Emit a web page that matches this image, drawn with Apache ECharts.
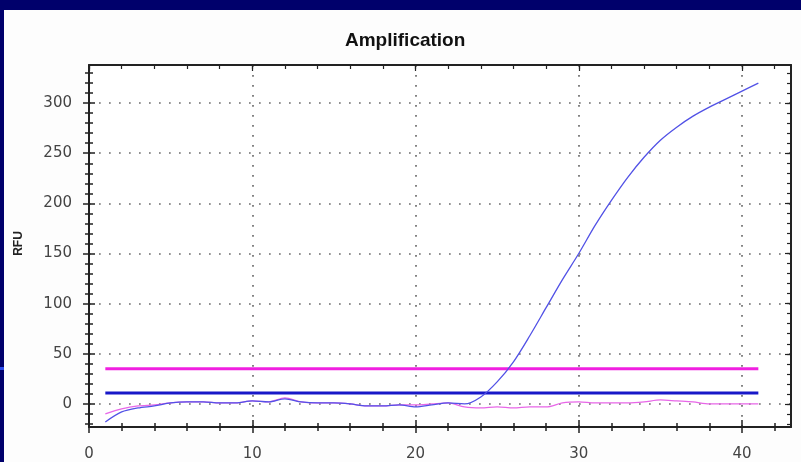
<!DOCTYPE html>
<html>
<head>
<meta charset="utf-8">
<script src="https://cdn.jsdelivr.net/npm/echarts@6/dist/echarts.min.js"></script>
<style>
html,body{margin:0;padding:0;background:#00006b;}
#c{width:801px;height:462px;}
</style>
</head>
<body>
<div id="c"></div>
<script>
// ---- data ----
const chartTitle = 'Amplification';
const yAxisName = 'RFU';
const cycles = [1,2,3,4,5,6,7,8,9,10,11,12,13,14,15,16,17,18,19,20,21,22,23,24,25,26,27,28,29,30,31,32,33,34,35,36,37,38,39,40,41];
const sampleBlue = [-18,-8,-4,-2,1,2,2,1,1,3,2,5,2,1,1,0,-2,-2,-1,-3,-1,1,0,7,22,42,68,96,124,150,178,203,226,246,263,276,287,296,304,312,320];
const samplePink = [-10,-5,-2,-1,1,2,2,1,1,3,2,6,2,1,1,0,-2,-2,-1,-1,0,1,-3,-4,-3,-4,-3,-3,1,2,1,1,1,2,4,3,2,0,0,0,0];
const thresholdPink = 35;
const thresholdBlue = 11;
const thresholdRange = [1, 41];
const xMin = 0, xMax = 43, yMin = -23, yMax = 338;
const xMajorTicks = [0, 10, 20, 30, 40];
const xMinorTicks = [0, 2, 4, 6, 8, 10, 12, 14, 16, 18, 20, 22, 24, 26, 28, 30, 32, 34, 36, 38, 40, 42];
const yMajorTicks = [0, 50, 100, 150, 200, 250, 300];
const yMinorTicks = [-20, -10, 0, 10, 20, 30, 40, 50, 60, 70, 80, 90, 100, 110, 120, 130, 140, 150, 160, 170, 180, 190, 200, 210, 220, 230, 240, 250, 260, 270, 280, 290, 300, 310, 320, 330];

const chart = echarts.init(document.getElementById('c'), null, {renderer: 'canvas'});

const FONT = 'DejaVu Sans';
const axisColor = '#222';

function baseAx(pos, min, max, ticks, opts) {
  return Object.assign({
    type: 'value', position: pos, min: min, max: max,
    axisLine: {show: false, onZero: false},
    axisLabel: {show: false, customValues: ticks},
    splitLine: {show: false},
    axisTick: {show: false, customValues: ticks}
  }, opts);
}
function tick(inside, len, w) {
  return {show: true, inside: inside, length: len, lineStyle: {color: axisColor, width: w}};
}
const xAx = (pos, ticks, opts) => baseAx(pos, xMin, xMax, ticks, opts);
const yAx = (pos, ticks, opts) => baseAx(pos, yMin, yMax, ticks, opts);
const gridDots = {show: true, lineStyle: {color: '#6e6e6e', width: 1.7, type: [1.7, 8.3]}};
const boxLine = {show: true, onZero: false, lineStyle: {color: axisColor, width: 2}};

const option = {
  backgroundColor: '#00006b',
  animation: false,
  graphic: [
    {type: 'rect', z: -10, shape: {x: 4, y: 10, width: 797, height: 452}, style: {fill: '#fdfdfd'}},
    {type: 'rect', z: -9, shape: {x: 0, y: 367, width: 4, height: 3}, style: {fill: '#2a4cf0'}}
  ],
  title: {
    text: chartTitle, left: 345, top: 31, padding: 0,
    textStyle: {fontFamily: 'Liberation Sans', fontWeight: 'bold', fontSize: 19, color: '#111'}
  },
  grid: {left: 89, right: 10, top: 65, bottom: 35, containLabel: false, show: true, backgroundColor: '#ffffff', borderWidth: 0},
  xAxis: [
    xAx('bottom', xMajorTicks, {
      axisLine: boxLine,
      axisLabel: {show: true, customValues: xMajorTicks, margin: 20, fontFamily: FONT, fontSize: 15, color: '#444'},
      axisTick: Object.assign(tick(false, 6, 1.5), {customValues: xMajorTicks}),
      splitLine: gridDots
    }),
    xAx('bottom', xMajorTicks, {axisTick: Object.assign(tick(true, 7, 1.5), {customValues: xMajorTicks})}),
    xAx('bottom', xMinorTicks, {axisTick: Object.assign(tick(false, 4, 1.5), {customValues: xMinorTicks})}),
    xAx('bottom', xMinorTicks, {axisTick: Object.assign(tick(true, 4, 1.5), {customValues: xMinorTicks})}),
    xAx('top', xMinorTicks, {axisLine: boxLine, axisTick: Object.assign(tick(true, 4, 1.2), {customValues: xMinorTicks})}),
    xAx('top', xMajorTicks, {axisTick: Object.assign(tick(true, 6, 1.2), {customValues: xMajorTicks})})
  ],
  yAxis: [
    yAx('left', yMajorTicks, {
      name: yAxisName, nameLocation: 'middle', nameGap: 64, nameRotate: 90,
      nameTextStyle: {fontFamily: 'Liberation Sans', fontWeight: 'bold', fontSize: 12, color: '#222', padding: [0, 0, 0, 5]},
      axisLine: boxLine,
      axisLabel: {show: true, customValues: yMajorTicks, margin: 17, fontFamily: FONT, fontSize: 15, color: '#444'},
      axisTick: Object.assign(tick(false, 6, 1.5), {customValues: yMajorTicks}),
      splitLine: gridDots
    }),
    yAx('left', yMajorTicks, {axisTick: Object.assign(tick(true, 6, 1.5), {customValues: yMajorTicks})}),
    yAx('left', yMinorTicks, {axisTick: Object.assign(tick(false, 4, 1.5), {customValues: yMinorTicks})}),
    yAx('left', yMinorTicks, {axisTick: Object.assign(tick(true, 4, 1.5), {customValues: yMinorTicks})}),
    yAx('right', yMinorTicks, {axisLine: boxLine, axisTick: Object.assign(tick(true, 4, 1.2), {customValues: yMinorTicks})}),
    yAx('right', yMajorTicks, {axisTick: Object.assign(tick(true, 6, 1.2), {customValues: yMajorTicks})})
  ],
  series: [
    {
      type: 'line', name: 'Sample 1', xAxisIndex: 0, yAxisIndex: 0, showSymbol: false, smooth: 0.3, z: 3,
      data: cycles.map((c, i) => [c, samplePink[i]]),
      lineStyle: {color: '#e866e8', width: 1.3}
    },
    {
      type: 'line', name: 'Sample 2', xAxisIndex: 0, yAxisIndex: 0, showSymbol: false, smooth: 0.3, z: 4,
      data: cycles.map((c, i) => [c, sampleBlue[i]]),
      lineStyle: {color: '#5252e6', width: 1.3}
    },
    {
      type: 'line', name: 'Threshold 1', xAxisIndex: 0, yAxisIndex: 0, showSymbol: false, z: 2,
      data: thresholdRange.map(c => [c, thresholdPink]),
      lineStyle: {color: '#f020e0', width: 3}
    },
    {
      type: 'line', name: 'Threshold 2', xAxisIndex: 0, yAxisIndex: 0, showSymbol: false, z: 2,
      data: thresholdRange.map(c => [c, thresholdBlue]),
      lineStyle: {color: '#1818c8', width: 3}
    }
  ]
};
chart.setOption(option);
</script>
</body>
</html>
